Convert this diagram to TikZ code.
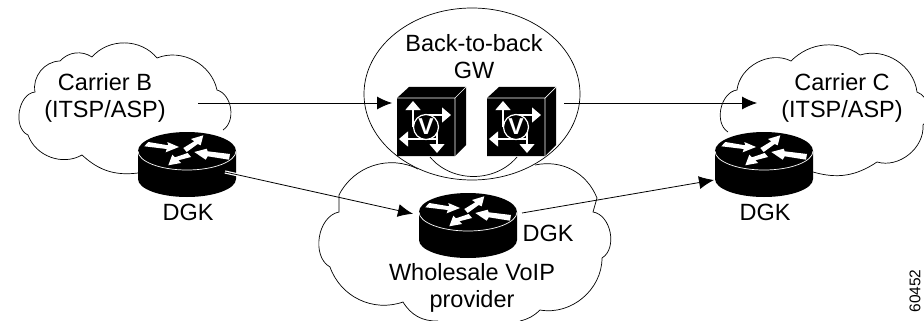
\documentclass[tikz,border=0pt]{standalone}
\usepackage{fontspec}
\setmainfont{Liberation Sans}
\usetikzlibrary{arrows.meta,shapes.geometric}
\tikzset{
    cloudline/.style={line width=.7pt},
    link/.style={line width=.8pt,-{Latex[length=15pt,width=13pt]}},
    label/.style={font=\fontsize{23.5}{27}\selectfont,align=center,inner sep=0pt},
    hit/.style={inner sep=0pt,minimum width=#1,minimum height=65pt},
    whitearrow/.style={fill=white},
    gwarrow/.style={white,line width=1.2pt,-{Triangle[length=9pt,width=15pt]}},
    router/.pic={
        \fill[black](-49,-14)--(-49,14) arc[x radius=49,y radius=18,start angle=180,end angle=0]--(49,-14)--cycle;
        \fill[black](0,-14) ellipse[x radius=49,y radius=19];
        \draw[white,line width=.7pt](-49,-14) arc[x radius=49,y radius=19,start angle=180,end angle=0];
        \path[whitearrow](-38.7,-23)--(-18.7,-19.7)--(-19.7,-23)--(-8,-18)--(-21.3,-12.7)--(-20.3,-16)--(-42.7,-18.7)--cycle;
        \path[whitearrow](16.3,-29.7)--(13.7,-19.7)--(10.7,-21)--(-.3,-13)--(-3.7,-17)--(7.3,-23.7)--(4,-26)--cycle;
        \path[whitearrow](7.3,-13)--(19.7,-16.3)--(20.7,-13.7)--(43,-11)--(42,-5.3)--(20.7,-8.7)--(18.7,-5.3)--cycle;
        \path[whitearrow](-18.7,.3)--(-14.7,-10.3)--(-12,-7.7)--(.7,-12)--(4,-8)--(-8.7,-4.7)--(-6,-2)--cycle;
    },
    gwcube/.pic={
        \fill[black](-29,-29)--(-17,-40)--(40,-40)--(40,18)--(29,29)--(-29,29)--cycle;
        \draw[white,line width=.7pt](-29,-29)--(29,-29)--(29,29)(29,-29)--(40,-40);
        \draw[gwarrow](-13,0)--(-13,-26);
        \draw[gwarrow](0,-12)--(25,-12);
        \draw[gwarrow](12,12)--(-27,12);
        \draw[gwarrow](11,0)--(11,26);
        \draw[white,line width=1.2pt,fill=black](0,0) circle(12.5);
        \node[white,font=\fontsize{23}{23}\bfseries\selectfont,inner sep=0pt] at (0,0){V};
    },
}
\begin{document}
\begin{tikzpicture}[>=latex, x=1pt, y=-1pt]
\useasboundingbox (0,0) rectangle (924,321);
% carrier clouds
\draw[cloudline](138,173) to[bend left=25](82,155) to[bend left=50](28,135) to[bend left=75](35,92) to[bend left=50](60,61) to[bend left=40](92,57) to[bend left=50](157,58) to[bend left=50](217,90) to[bend left=65](223,130);
\draw[cloudline](813,172) to[bend right=25](877,162) to[bend right=55](923,125) to[bend right=60](917,92) to[bend right=50](860,55) to[bend right=40](791,61) to[bend right=55](737,90) to[bend right=70](728,132);
% wholesale cloud
\draw[cloudline](535,165) to[bend left=40](597,198) --(593,212) to[bend left=70](602,258) to[bend left=50](540,310) to[bend left=15](520,321);
\draw[cloudline](418,169) to[bend right=45](339,195) --(339,212) to[bend right=70](330,267) to[bend right=45](403,302) to[bend right=30](438,321);
% gateway
\node[draw,fill=white,line width=.7pt,ellipse,minimum width=216pt,minimum height=172pt,inner sep=0pt](gwRing) at (472,94){};
\draw[cloudline](430,157) to[bend right=50](517,157);
\pic at (426,127){gwcube};
\pic at (516,127){gwcube};
% routers
\pic at (187,165){router};
\pic at (764,165){router};
\pic at (468,226){router};
\node[hit=98pt](dgkB) at (187,165){};
\node[hit=98pt](dgkC) at (764,165){};
\node[hit=98pt](dgkW) at (468,226){};
% labels
\node[label](carrierB) at (105,98){Carrier B\\(ITSP/ASP)};
\node[label](carrierC) at (842,98){Carrier C\\(ITSP/ASP)};
\node[label](backBack) at (474,57){Back-to-back\\GW};
\node[label](dgkBtext) at (188,212){DGK};
\node[label](dgkCtext) at (765,212){DGK};
\node[label](dgkWtext) at (548,233){DGK};
\node[label](wholesale) at (472,288){Wholesale VoIP\\provider};
\node[font=\fontsize{15.5}{16}\selectfont,rotate=90,inner sep=0pt](figNum) at (915,291){60452};
% connectors
\coordinate (bOut) at (198,103);
\coordinate (gwIn) at (392,103);
\coordinate (gwOut) at (564,103);
\coordinate (cIn) at (757,103);
\coordinate (dgkBout) at (225,172);
\coordinate (dgkWout) at (522,213);
\coordinate (dgkCin) at (714,180);
\draw[link](bOut)--(gwIn);
\draw[link](gwOut)--(cIn);
\draw[white,line width=3.2pt,shorten >=186pt](dgkBout)--(dgkW);
\draw[link,shorten >=6pt](dgkBout)--(dgkW);
\draw[link](dgkWout)--(dgkCin);
\end{tikzpicture}
\end{document}
